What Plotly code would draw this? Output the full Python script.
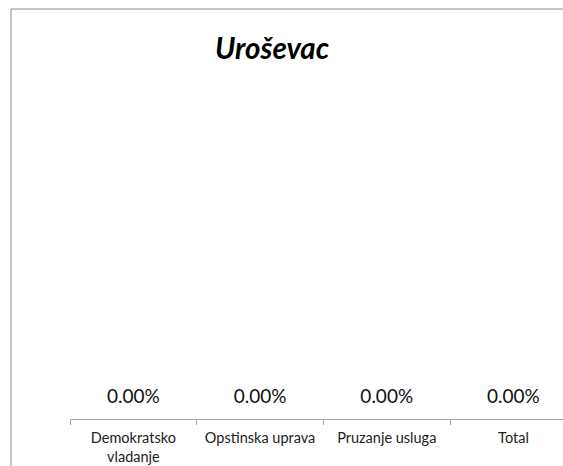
import plotly.graph_objects as go

categories = ["Demokratsko<br>vladanje", "Opstinska uprava", "Pruzanje usluga", "Total"]
values = [0.0, 0.0, 0.0, 0.0]
labels = ["0.00%", "0.00%", "0.00%", "0.00%"]
title_text = "Uroševac"

W, H = 563, 466
left, bottom, top = 70, 47, 90
plot_w = W - left
plot_h = H - top - bottom
cat_px = 126.7
FONT = "Lato, Open Sans, sans-serif"

fig = go.Figure()
fig.add_trace(go.Scatter(
    x=categories, y=values, mode="text", text=labels,
    textposition="top center",
    textfont=dict(family=FONT, size=19, color="#111111"),
    showlegend=False, hoverinfo="skip", cliponaxis=False,
))

bx = -(left - 11) / plot_w
by = 1 + (top - 9) / plot_h

fig.update_layout(
    width=W, height=H,
    margin=dict(l=left, r=0, t=top, b=bottom),
    paper_bgcolor="white", plot_bgcolor="white",
    title=dict(text="<b><i>" + title_text + "</i></b>", x=272 / W, xanchor="center",
               y=1 - 49 / H, yanchor="middle",
               font=dict(family=FONT, size=29.5, color="#000000")),
    xaxis=dict(
        type="category",
        range=[-0.5, -0.5 + plot_w / cat_px],
        showline=True, linecolor="#a6a6a6", linewidth=1,
        ticks="outside", ticklen=5, tickcolor="#a6a6a6", tickson="boundaries",
        ticklabelstandoff=6,
        showgrid=False, zeroline=False,
        tickfont=dict(family=FONT, size=14.5, color="#222222"),
        fixedrange=True,
    ),
    yaxis=dict(range=[-0.037, 1], visible=False, fixedrange=True),
    shapes=[
        dict(type="rect", xref="paper", yref="paper", x0=bx, x1=1.3,
             y0=-bottom / plot_h - 0.2, y1=by,
             line=dict(color="#8c8c8c", width=1), fillcolor="rgba(0,0,0,0)"),
    ],
)

fig.write_html(
    "out.html", config={"displayModeBar": False},
    post_script=(
        "document.documentElement.style.margin='0px';"
        "document.documentElement.style.overflow='hidden';"
        "document.body.style.margin='0px';"
        "document.body.style.overflow='hidden';"
    ),
)
